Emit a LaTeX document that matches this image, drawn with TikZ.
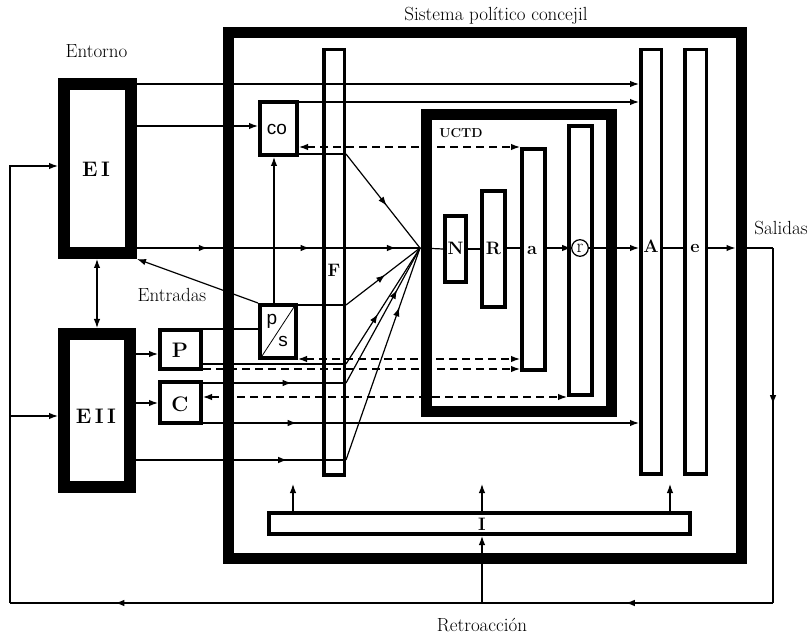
\documentclass[tikz,border=0pt]{standalone}
\usepackage{fontspec}
\newfontfamily\helv{Liberation Sans}
\usetikzlibrary{arrows.meta,decorations.markings}
\newcommand\myTip{\arrow{Latex[length=9pt,width=6.5pt]}}
\begin{document}
\begin{tikzpicture}[x=1pt,y=-1pt,
  >={Latex[length=9pt,width=6.5pt]},
  conn/.style={line width=1.2pt},
  dsh/.style={line width=1.2pt, dash pattern=on 8pt off 5pt},
  bx/.style={draw, line width=#1, inner sep=0pt, outer sep=0.5*#1},
  marr/.style={postaction={decorate},decoration={markings,mark=at position #1 with {\myTip}}},
  txt/.style={font=\fontsize{19}{22}\selectfont, inner sep=0pt},
  bigl/.style={font=\fontsize{21}{24}\selectfont\bfseries, inner sep=0pt},
  midl/.style={font=\fontsize{21}{24}\selectfont\bfseries, inner sep=0pt},
  letl/.style={font=\fontsize{18}{20}\selectfont\bfseries, inner sep=0pt},
  ucl/.style={font=\fontsize{13}{15}\selectfont\bfseries, inner sep=0pt},
  sfl/.style={font=\helv\fontsize{19}{22}\selectfont, inner sep=0pt},
  rl/.style={font=\fontsize{19}{21}\selectfont, inner sep=0pt}]
\useasboundingbox (0,0) rectangle (812,636);

% coordinates
\coordinate (conv) at (420,248);
\coordinate (out) at (773,248);
\coordinate (fbR) at (773,603);
\coordinate (fbL) at (10,603);
\coordinate (u1) at (293,484);
\coordinate (u2) at (482,484);
\coordinate (u3) at (670,484);

% boxes
\node[bx=11pt, minimum width=513pt, minimum height=525.5pt] (frame) at (484.5,295.25) {};
\node[bx=12pt, minimum width=67pt, minimum height=169pt] (EI) at (97.5,168.5) {};
\node[bx=12pt, minimum width=66pt, minimum height=153pt] (EII) at (97,410.5) {};
\node[bx=4pt, minimum width=41pt, minimum height=39pt] (P) at (180.5,349.5) {};
\node[bx=4pt, minimum width=41pt, minimum height=41pt] (C) at (180.5,402.5) {};
\node[bx=4pt, minimum width=37pt, minimum height=53pt] (co) at (278.5,128.5) {};
\node[bx=4pt, minimum width=36pt, minimum height=53pt] (ps) at (278,331.5) {};
\node[bx=3.5pt, minimum width=20.5pt, minimum height=425.5pt] (F) at (334,262.5) {};
\node[bx=11pt, minimum width=185pt, minimum height=297pt] (UCTD) at (519,263) {};
\node[bx=4pt, minimum width=21pt, minimum height=66pt] (N) at (455.5,249) {};
\node[bx=4pt, minimum width=23pt, minimum height=116pt] (R) at (493.5,249) {};
\node[bx=4pt, minimum width=23pt, minimum height=221pt] (a) at (533.5,259.5) {};
\node[bx=4pt, minimum width=23pt, minimum height=269pt] (r) at (580.5,260.5) {};
\node[bx=3.5pt, minimum width=20.5pt, minimum height=424.5pt] (A) at (651,262) {};
\node[bx=3.5pt, minimum width=21.5pt, minimum height=424.5pt] (e) at (695.5,262) {};
\node[bx=4pt, minimum width=421pt, minimum height=21pt] (I) at (479.5,523.5) {};
\node[draw, circle, line width=1.2pt, minimum size=16.6pt, inner sep=0pt] (rc) at (580,248) {};
\draw[line width=0.8pt] ([shift={(4,-4)}]ps.south west) -- ([shift={(-4,4)}]ps.north east);

% texts
\node[txt, anchor=base] (ttl) at (496,21) {Sistema político concejil};
\node[txt, anchor=base] (ent) at (96.5,58) {Entorno};
\node[txt, anchor=base] (entr) at (172,302) {Entradas};
\node[txt, anchor=base] (sal) at (781,235) {Salidas};
\node[txt, anchor=base] (ret) at (482,631) {Retroacción};
\node[bigl, anchor=base] (lEI) at (96,177) {E\,I};
\node[bigl, anchor=base] (lEII) at (96,424) {E\,I\,I};
\node[midl, anchor=base] (lP) at (180,358) {P};
\node[midl, anchor=base] (lC) at (180,412) {C};
\node[letl, anchor=base] (lF) at (334,277) {F};
\node[letl, anchor=base] (lN) at (455.5,255) {N};
\node[letl, anchor=base] (lR) at (493.5,255) {R};
\node[letl, anchor=base] (la) at (532,255) {a};
\node[letl, anchor=base] (lA) at (651,253) {A};
\node[letl, anchor=base] (le) at (695,253) {e};
\node[letl, anchor=base] (lI) at (482,530) {I};
\node[ucl, anchor=base] (lU) at (461,138) {UCTD};
\node[sfl, anchor=base] (lco) at (277,135) {co};
\node[sfl, anchor=base] (lp) at (272,325) {p};
\node[sfl, anchor=base] (ls) at (283,347) {s};
\node[rl, anchor=base] (lr) at (580,252.5) {r};

% top connectors
\draw[conn,->] (EI.east |- 0,84) -- (A.west |- 0,84);
\draw[conn,->] (co.east |- 0,102) -- (A.west |- 0,102);
\draw[conn,->] (EI.east |- 0,126) -- (co.west |- 0,126);
\draw[dsh,<->] (co.east |- 0,147) -- (a.west |- 0,147);
\draw[conn] (co.east |- 0,154) -- (F.east |- 0,154);
\draw[conn,marr=0.55] (F.east |- 0,154) -- (conv);

% main line
\draw[conn,postaction={decorate},decoration={markings,
  mark=at position 0.25 with {\myTip},
  mark=at position 0.61 with {\myTip},
  mark=at position 0.915 with {\myTip}}] (EI.east |- conv) -- (conv);
\draw[conn] (conv) -- (N.west);
\draw[conn] (N.east) -- (R.west);
\draw[conn] (R.east |- conv) -- (a.west |- conv);
\draw[conn,->] (a.east |- conv) -- (rc.west);
\draw[conn,->] (rc.east) -- (A.west |- conv);
\draw[conn] (A.east |- conv) -- (e.west |- conv);
\path (frame.east |- conv) coordinate (fo);
\coordinate (fi) at ([xshift=-11pt]fo);
\draw[conn,->] (e.east |- conv) -- (fi);
\draw[conn] (fo) -- (out);
\draw[conn,marr=0.44] (out) -- (fbR);
\draw[conn,postaction={decorate},decoration={markings,
  mark=at position 0.193 with {\myTip},
  mark=at position 0.862 with {\myTip}}] (fbR) -- (fbL);
\draw[conn,->] (fbL) -- (fbL |- 0,166) -- (EI.west |- 0,166);
\draw[conn,->] (fbL |- 0,416) -- (EII.west |- 0,416);
\draw[conn,->] (fbL -| u2) -- (I.south -| u2);

% I arrows
\draw[conn,->] (I.north -| u1) -- (u1);
\draw[conn,->] (I.north -| u2) -- (u2);
\draw[conn,->] (I.north -| u3) -- (u3);

% p/s connectors
\draw[conn,->] (ps.north west) -- (EI.south east);
\draw[conn,->] (ps.north -| 274,0) -- (co.south -| 274,0);
\draw[conn] (P.east |- 0,329) -- (ps.west |- 0,329);
\draw[conn] (ps.east |- 0,305) -- (F.east |- 0,305);
\draw[conn,marr=0.53] (F.east |- 0,305) -- (conv);
\draw[dsh,<->] (ps.east |- 0,359) -- (a.west |- 0,359);

% P, C, EII connectors
\draw[conn] (P.east |- 0,364) -- (F.east |- 0,364);
\draw[conn,marr=0.43] (F.east |- 0,364) -- (conv);
\draw[dsh,->] (P.east |- 0,369) -- (a.west |- 0,369);
\draw[conn,marr=0.62] (C.east |- 0,383) -- (F.east |- 0,383);
\draw[conn,marr=0.69] (F.east |- 0,383) -- (conv);
\draw[dsh,<->] (C.east |- 0,397) -- (r.west |- 0,397);
\draw[conn,marr=0.215,->] (C.east |- 0,423) -- (A.west |- 0,423);
\draw[conn,marr=0.72] (EII.east |- 0,460) -- (F.east |- 0,460);
\draw[conn,marr=0.72] (F.east |- 0,460) -- (conv);
\draw[conn,<->] (EI.south -| 97,0) -- (EII.north -| 97,0);
\draw[conn,->] (EII.east |- 0,354) -- (P.west |- 0,354);
\draw[conn,->] (EII.east |- 0,403) -- (C.west |- 0,403);
\end{tikzpicture}
\end{document}
